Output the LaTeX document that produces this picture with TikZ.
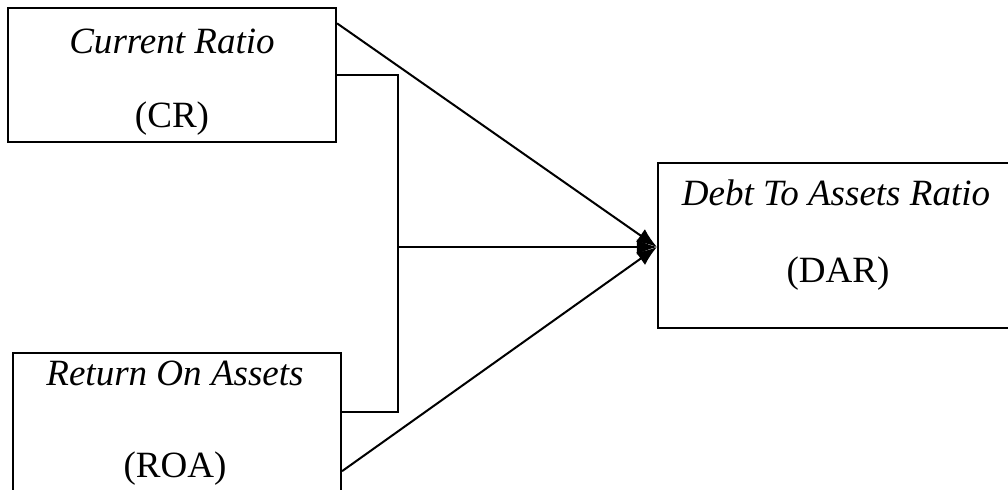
\documentclass[tikz,border=0pt]{standalone}
\usepackage{fontspec}
\setmainfont{Liberation Serif}
\usetikzlibrary{arrows.meta,positioning,calc}

\begin{document}
\begin{tikzpicture}[
  x=0.324pt,
  y=-0.324pt,
  font=\fontsize{12}{14}\selectfont,
  >={Latex[length=6.5pt,width=5pt]},
  link/.style={line width=0.65pt, draw=black},
  arrow/.style={->, line width=0.65pt, draw=black},
  varbox/.style={draw=black, line width=0.65pt, inner sep=0pt, minimum width=106.3pt},
  varname/.style={anchor=base, inner sep=0pt, font=\fontsize{12}{14}\selectfont\itshape},
  varabbr/.style={anchor=base, inner sep=0pt}
]
\useasboundingbox (0,0) rectangle (1008,490);

\node[varbox, minimum height=43.4pt] (cr) at (172,75) {};
\node[varbox, minimum height=47.6pt] (roa) at (177,426.5) {};
\node[varbox, minimum width=114.7pt, minimum height=53.5pt] (dar) at (835,245.5) {};

\node[varname] (crname) at (172,53) {Current Ratio};
\node[varabbr] (crabbr) at (172,127) {(CR)};
\node[varname] (roaname) at (175,385) {Return On Assets};
\node[varabbr] (roaabbr) at (175,477) {(ROA)};
\node[varname] (darname) at (836,205) {Debt To Assets Ratio};
\node[varabbr] (darabbr) at (838,282) {(DAR)};

\coordinate (join) at (398,247);
\coordinate (tip) at (dar.west |- join);

\draw[arrow] ($(cr.north east)!0.12!(cr.south east)$) -- (tip);
\draw[link] (cr.east) -| (join) |- ($(roa.north east)!0.4!(roa.south east)$);
\draw[arrow] (join) -- (tip);
\draw[arrow] ($(roa.north east)!0.8!(roa.south east)$) -- (tip);

\end{tikzpicture}
\end{document}
